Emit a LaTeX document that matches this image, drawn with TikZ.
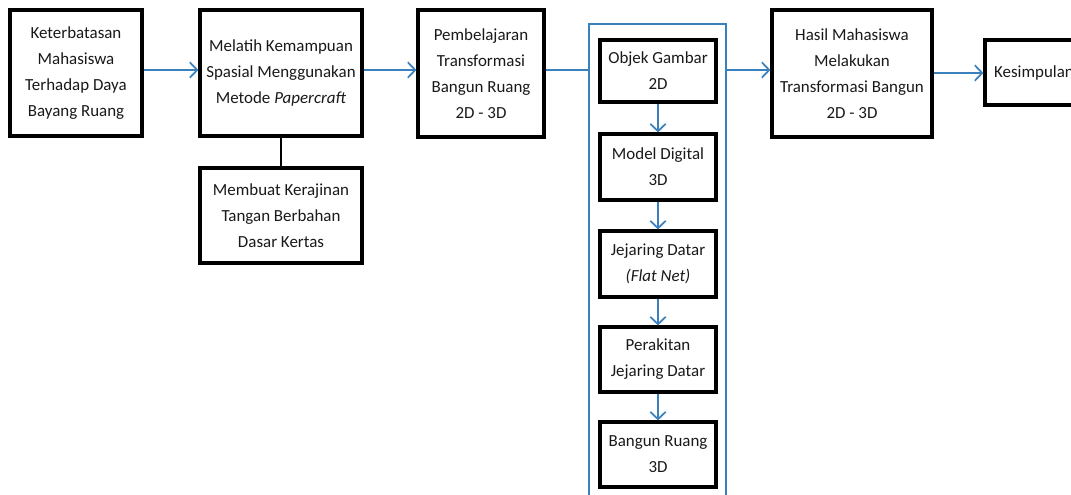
\documentclass[tikz,border=0pt]{standalone}
\usepackage{fontspec}
\setmainfont{Carlito}
\usetikzlibrary{arrows.meta}
\definecolor{lineblue}{RGB}{58,128,188}
\definecolor{txt}{RGB}{25,25,25}
\begin{document}
\begin{tikzpicture}[x=0.75pt,y=-0.75pt,
  box/.style={draw=black,line width=2.4pt,fill=white,align=center,inner sep=0pt,
    font=\fontsize{12.7pt}{19.5pt}\selectfont,text=txt},
  inbox/.style={box,minimum width=116*0.75pt,minimum height=65*0.75pt},
  barrow/.style={draw=lineblue,line width=1.5pt,-{Straight Barb[length=5.5pt,width=11.5pt,line width=1.3pt]}},
  bline/.style={draw=lineblue,line width=1.5pt}]
\useasboundingbox (0,0) rectangle (1071,495);
\clip (0,0) rectangle (1071,495);
\draw[lineblue,line width=1.6pt] (589,24) rectangle (726,520);
\node[box,minimum width=132*0.75pt,minimum height=126*0.75pt] (b1) at (76,73)
  {Keterbatasan\\Mahasiswa\\Terhadap Daya\\Bayang Ruang};
\node[box,minimum width=162*0.75pt,minimum height=126*0.75pt] (b2) at (281,73)
  {Melatih Kemampuan\\Spasial Menggunakan\\Metode \textit{Papercraft}};
\node[box,minimum width=162*0.75pt,minimum height=95*0.75pt] (b3) at (281,215.5)
  {Membuat Kerajinan\\Tangan Berbahan\\Dasar Kertas};
\node[box,minimum width=126*0.75pt,minimum height=127*0.75pt] (b4) at (481,73.5)
  {Pembelajaran\\Transformasi\\Bangun Ruang\\2D - 3D};
\coordinate (cl) at (589,70);
\coordinate (cr) at (726,70);
\node[inbox,minimum height=62*0.75pt] (i1) at (658,71) {Objek Gambar\\2D};
\node[inbox,minimum height=66*0.75pt] (i2) at (658,167) {Model Digital\\3D};
\node[inbox,minimum height=66*0.75pt] (i3) at (658,264) {Jejaring Datar\\\textit{(Flat Net)}};
\node[inbox] (i4) at (658,359.5) {Perakitan\\Jejaring Datar};
\node[inbox] (i5) at (658,454.5) {Bangun Ruang\\3D};
\node[box,minimum width=160*0.75pt,minimum height=127*0.75pt] (b5) at (852,73.5)
  {Hasil Mahasiswa\\Melakukan\\Transformasi Bangun\\2D - 3D};
\node[box,minimum width=98*0.75pt,minimum height=65*0.75pt] (b6) at (1034,72.5)
  {Kesimpulan};
\draw[barrow] (b1.east |- 0,70) -- (b2.west |- 0,70);
\draw[barrow] (b2.east |- 0,70) -- (b4.west |- 0,70);
\draw[bline] (b4.east |- cl) -- (cl);
\draw[barrow] (cr) -- (b5.west |- cr);
\draw[barrow] (b5.east |- 0,73) -- (b6.west |- 0,73);
\draw[black,line width=1pt] (b2.south) -- (b3.north);
\draw[barrow] (i1) -- (i2.north);
\draw[barrow] (i2) -- (i3.north);
\draw[barrow] (i3) -- (i4.north);
\draw[barrow] (i4) -- (i5.north);
\end{tikzpicture}
\end{document}
